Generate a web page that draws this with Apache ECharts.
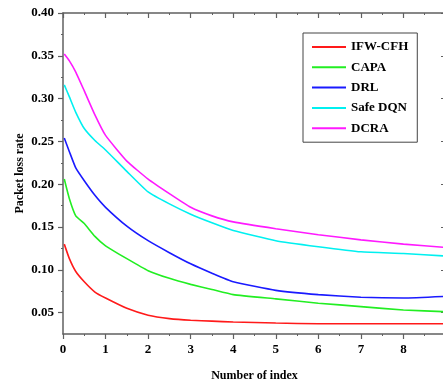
<!DOCTYPE html>
<html>
<head>
<meta charset="utf-8">
<script src="https://cdn.jsdelivr.net/npm/echarts@6/dist/echarts.min.js"></script>
<style>
  html, body { margin: 0; padding: 0; background: #fff; }
  #chart { width: 443px; height: 385px; }
</style>
</head>
<body>
<div id="chart"></div>
<script>
// x positions (index) and packet loss rate per method
const xs = [0.03, 0.15, 0.3, 0.5, 0.75, 1, 1.5, 2, 2.5, 3, 3.5, 4, 5, 6, 7, 8, 9];
const ifwCfh  = [0.130, 0.113, 0.098, 0.086, 0.074, 0.067, 0.055, 0.047, 0.043, 0.041, 0.040, 0.039, 0.0378, 0.037, 0.037, 0.037, 0.037];
const capa    = [0.206, 0.183, 0.163, 0.154, 0.139, 0.128, 0.113, 0.099, 0.090, 0.083, 0.077, 0.071, 0.066, 0.061, 0.057, 0.053, 0.051];
const drl     = [0.254, 0.238, 0.219, 0.204, 0.187, 0.173, 0.151, 0.134, 0.120, 0.107, 0.096, 0.086, 0.076, 0.071, 0.068, 0.067, 0.069];
const safeDqn = [0.316, 0.302, 0.284, 0.265, 0.251, 0.240, 0.215, 0.191, 0.177, 0.165, 0.155, 0.146, 0.134, 0.127, 0.121, 0.119, 0.116];
const dcra    = [0.352, 0.344, 0.331, 0.309, 0.281, 0.257, 0.227, 0.206, 0.189, 0.173, 0.163, 0.156, 0.148, 0.141, 0.135, 0.130, 0.126];

const names  = ['IFW-CFH', 'CAPA', 'DRL', 'Safe DQN', 'DCRA'];
const colors = ['#ff1a1a', '#22ee22', '#1a1aff', '#00f0f0', '#ff1aff'];
const yMajor = [0.05, 0.10, 0.15, 0.20, 0.25, 0.30, 0.35, 0.40];
const yMinor = [0.075, 0.125, 0.175, 0.225, 0.275, 0.325, 0.375];

const font = 'Liberation Serif';
const axisColor = '#606060';
const pair = (ys) => xs.map((x, i) => [x, ys[i]]);

var myChart = echarts.init(document.getElementById('chart'));
myChart.setOption({
    animation: false,
    textStyle: { fontFamily: font, fontWeight: 'bold', color: '#000' },
    grid: { left: 63, top: 13, width: 383, height: 321, containLabel: false, outerBoundsMode: 'none' },
    legend: {
        orient: 'vertical',
        left: 303,
        top: 33,
        icon: 'rect',
        itemWidth: 34,
        itemHeight: 2,
        itemGap: 6.3,
        padding: [7, 9, 7, 9],
        borderColor: '#444',
        borderWidth: 1,
        backgroundColor: '#fff',
        textStyle: { fontFamily: font, fontWeight: 'bold', fontSize: 13, lineHeight: 14, color: '#000' },
        data: names
    },
    xAxis: [{
        type: 'value',
        min: 0, max: 9, interval: 1,
        name: 'Number of index',
        nameLocation: 'middle',
        nameGap: 36,
        nameTextStyle: { fontFamily: font, fontWeight: 'bold', fontSize: 12, color: '#000' },
        axisLine: { lineStyle: { color: axisColor, width: 1.5 } },
        axisTick: { length: 5, lineStyle: { color: axisColor, width: 1.2 } },
        minorTick: { show: true, splitNumber: 2, length: 2, lineStyle: { color: axisColor } },
        splitLine: { show: false },
        axisLabel: { margin: 9, fontFamily: font, fontWeight: 'bold', fontSize: 13, color: '#000' }
    }, {
        type: 'value',
        position: 'top',
        min: 0, max: 9, interval: 1,
        axisLine: { show: true, lineStyle: { color: axisColor, width: 1.5 } },
        axisTick: { show: true, inside: true, length: 5, lineStyle: { color: axisColor, width: 1.2 } },
        minorTick: { show: true, splitNumber: 2, length: 2, lineStyle: { color: axisColor } },
        splitLine: { show: false },
        axisLabel: { show: false }
    }],
    yAxis: [{
        type: 'value',
        min: 0.025, max: 0.40,
        name: 'Packet loss rate',
        nameLocation: 'middle',
        nameRotate: 90,
        nameGap: 37,
        nameMoveOverlap: false,
        nameTextStyle: { fontFamily: font, fontWeight: 'bold', fontSize: 12, color: '#000' },
        axisLine: { show: true, lineStyle: { color: axisColor, width: 1.5 } },
        axisTick: { show: true, length: 5, customValues: yMajor, lineStyle: { color: axisColor, width: 1.2 } },
        splitLine: { show: false },
        axisLabel: {
            margin: 9, fontFamily: font, fontWeight: 'bold', fontSize: 13, color: '#000',
            customValues: yMajor,
            formatter: (v) => v.toFixed(2)
        }
    }, {
        type: 'value',
        min: 0.025, max: 0.40,
        position: 'left',
        axisLine: { show: false },
        axisTick: { show: true, length: 2, customValues: yMinor, lineStyle: { color: axisColor } },
        splitLine: { show: false },
        axisLabel: { show: false }
    }, {
        type: 'value',
        min: 0.025, max: 0.40,
        position: 'right',
        axisLine: { show: true, lineStyle: { color: axisColor, width: 1.5 } },
        axisTick: { show: true, inside: true, length: 5, customValues: yMajor, lineStyle: { color: axisColor, width: 1.2 } },
        splitLine: { show: false },
        axisLabel: { show: false }
    }],
    series: [ifwCfh, capa, drl, safeDqn, dcra].map((ys, i) => ({
        name: names[i],
        type: 'line',
        xAxisIndex: 0,
        yAxisIndex: 0,
        smooth: 0.15,
        symbol: 'none',
        lineStyle: { color: colors[i], width: 1.6 },
        itemStyle: { color: colors[i] },
        data: pair(ys)
    }))
});
</script>
</body>
</html>
